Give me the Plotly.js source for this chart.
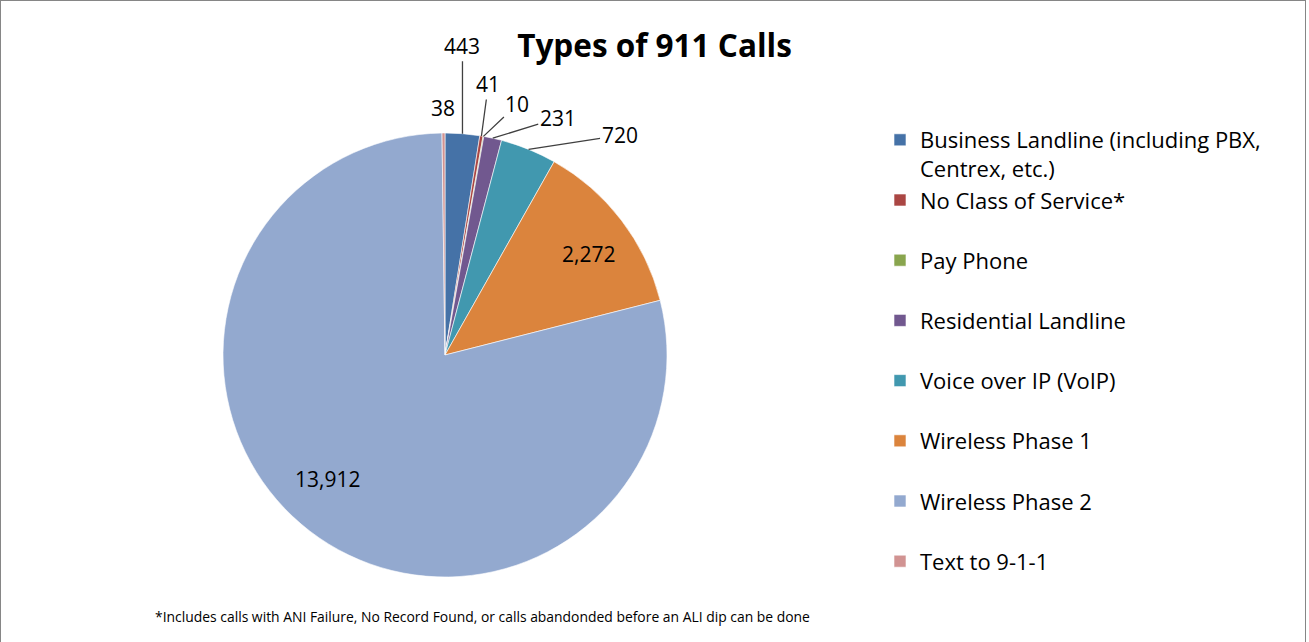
<!DOCTYPE html>
<html>
<head>
<meta charset="utf-8">
<script src="https://cdn.plot.ly/plotly-3.0.1.min.js"></script>
<style>
html,body{margin:0;padding:0;background:#fff;}
#chart{position:absolute;left:0;top:0;width:1309px;height:642px;}
#frame{position:absolute;left:0;top:0;width:1304px;height:660px;border:1px solid #868686;pointer-events:none;}
</style>
</head>
<body>
<div id="chart"></div>
<div id="frame"></div>
<script>
// ---- data ----
const categories = [
  "Business Landline (including PBX,<br>Centrex, etc.)",
  "No Class of Service*",
  "Pay Phone",
  "Residential Landline",
  "Voice over IP (VoIP)",
  "Wireless Phase 1",
  "Wireless Phase 2",
  "Text to 9-1-1"
];
const callCounts = [443, 41, 10, 231, 720, 2272, 13912, 38];
const sliceColors = ["#4572A7", "#AA4643", "#89A54E", "#71588F", "#4198AF", "#DB843D", "#93A9CF", "#D19392"];

// label placement style:
// 'out': [mode, ax, ay] leader line offsets in px
// 'in' : [mode, radius fraction, angle shift in degrees]
const labelPlacement = [
  ["out", 0, -88],
  ["out", 7, -52],
  ["out", 34, -32],
  ["out", 65, -20],
  ["out", 91, -14],
  ["in", 0.79, 2.4],
  ["in", 0.77, 6],
  ["text", 0, -25]
];

const W = 1309, H = 642;
const cx = 445, cy = 355, R = 222;
const FONT = "'Open Sans', Lato, sans-serif";

// legend labels: pad single-line entries to two lines so spacing matches
const legendLabels = categories.map(c => c.indexOf("<br>") >= 0 ? c : c + "<br>\u00a0");

const total = callCounts.reduce((a, b) => a + b, 0);
let cum = 0;
const annotations = [];
callCounts.forEach((v, i) => {
  let mid = (cum + v / 2) / total * 2 * Math.PI;
  cum += v;
  const p = labelPlacement[i];
  const txt = v.toLocaleString("en-US");
  if (p[0] === "in") {
    mid += p[2] * Math.PI / 180;
    const r = R * p[1];
    annotations.push({
      x: (cx + r * Math.sin(mid)) / W, y: 1 - (cy - r * Math.cos(mid)) / H,
      xref: "paper", yref: "paper", xanchor: "center", yanchor: "middle",
      text: txt, showarrow: false,
      font: {size: 21, color: "#000"}
    });
  } else {
    const ex = (cx + R * Math.sin(mid)) / W, ey = 1 - (cy - R * Math.cos(mid)) / H;
    annotations.push({
      x: ex, y: ey, xref: "paper", yref: "paper", text: txt,
      showarrow: true, ax: p[1], ay: p[2], arrowhead: 0, arrowwidth: 1.3,
      arrowcolor: p[0] === "text" ? "rgba(0,0,0,0)" : "#404040", standoff: 0,
      font: {size: 21, color: "#000"}
    });
  }
});

annotations.push({
  x: 153 / W, y: 1 - 616 / H, xref: "paper", yref: "paper", xanchor: "left", yanchor: "middle",
  text: "*Includes calls with ANI Failure, No Record Found, or calls abandonded before an ALI dip can be done",
  showarrow: false, font: {size: 13.9, color: "#000"}
});

const trace = {
  type: "pie",
  labels: legendLabels,
  values: callCounts,
  sort: false,
  direction: "clockwise",
  rotation: 0,
  textinfo: "none",
  hoverinfo: "label+value",
  marker: {colors: sliceColors, line: {color: "#ffffff", width: 0.6}},
  domain: {x: [(cx - R) / W, (cx + R) / W], y: [1 - (cy + R) / H, 1 - (cy - R) / H]}
};

const layout = {
  width: W, height: H,
  margin: {l: 0, r: 0, t: 0, b: 0},
  paper_bgcolor: "#ffffff",
  font: {family: FONT, color: "#000"},
  title: {text: "<b>Types of 911 Calls</b>", x: 0.5, xanchor: "center", y: 1 - 46 / H, yanchor: "middle",
          font: {size: 31.5, color: "#000"}},
  showlegend: true,
  legend: {x: 880 / W, xanchor: "left", y: 1 - 119 / H, yanchor: "top", valign: "top",
           font: {size: 22, color: "#000"}, bgcolor: "rgba(0,0,0,0)", traceorder: "normal"},
  annotations: annotations
};

Plotly.newPlot("chart", [trace], layout, {displayModeBar: false, staticPlot: true});
</script>
</body>
</html>
